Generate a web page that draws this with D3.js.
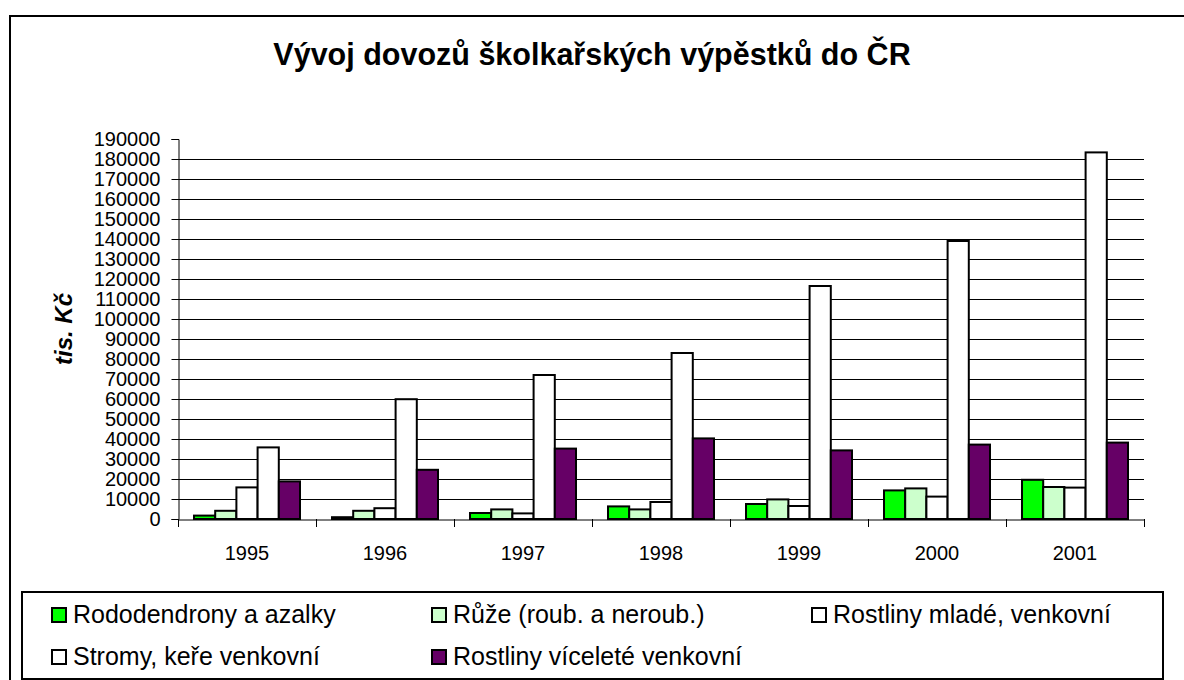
<!DOCTYPE html>
<html>
<head>
<meta charset="utf-8">
<script src="https://cdn.jsdelivr.net/npm/d3@7"></script>
<style>
  body { margin: 0; background: #fff; }
  text { font-family: Arial, "Liberation Sans", sans-serif; fill: #000; }
</style>
</head>
<body>
<div id="chart"></div>
<script>
// Dovoz školkařských výpěstků do ČR (tis. Kč)
const years = ["1995", "1996", "1997", "1998", "1999", "2000", "2001"];
const seriesNames = [
  "Rododendrony a azalky",
  "Růže (roub. a neroub.)",
  "Rostliny mladé, venkovní",
  "Stromy, keře venkovní",
  "Rostliny víceleté venkovní"
];
const rododendrony = [1700, 900, 3000, 6300, 7500, 14300, 19600];
const ruze = [4100, 4100, 4800, 4800, 9800, 15300, 16000];
const mlade = [15800, 5400, 2800, 8500, 6500, 11200, 15700];
const stromy = [35800, 59900, 72000, 83000, 116500, 139000, 183300];
const vicelete = [18800, 24600, 35200, 40300, 34300, 37200, 38200];
const yTicks = d3.range(0, 190001, 10000);
const colors = ["#00ff00", "#ccffcc", "#ffffff", "#ffffff", "#660066"];

const allSeries = [rododendrony, ruze, mlade, stromy, vicelete];

const width = 1184, height = 680;
const svg = d3.select("#chart").append("svg")
  .attr("width", width)
  .attr("height", height);

// outer chart border (right/bottom edges fall outside the picture)
svg.append("rect")
  .attr("x", 10).attr("y", 16)
  .attr("width", 1190).attr("height", 700)
  .attr("fill", "#fff").attr("stroke", "#000").attr("stroke-width", 2);

// title
svg.append("text")
  .attr("x", 592).attr("y", 65)
  .attr("text-anchor", "middle")
  .style("font-size", "30.5px").style("font-weight", "bold")
  .text("Vývoj dovozů školkařských výpěstků do ČR");

// scales
const x = d3.scaleBand().domain(years).range([178, 1144]).padding(0);
const xInner = d3.scaleBand().domain(d3.range(seriesNames.length))
  .range([16, x.bandwidth() - 16]).padding(0);
const y = d3.scaleLinear().domain([0, 190000]).range([519, 139]);

// gridlines (none at the top value)
svg.append("g")
  .selectAll("line")
  .data(yTicks.filter(t => t > 0 && t < 190000))
  .join("line")
  .attr("x1", 178).attr("x2", 1144)
  .attr("y1", d => Math.round(y(d)) + 0.5).attr("y2", d => Math.round(y(d)) + 0.5)
  .attr("stroke", "#000").attr("stroke-width", 1);

// y axis
const yAxis = svg.append("g")
  .attr("transform", "translate(178.5,0)")
  .call(d3.axisLeft(y).tickValues(yTicks).tickSize(7).tickPadding(11).tickFormat(d3.format("d")));
yAxis.select(".domain").attr("stroke", "#000");
yAxis.selectAll(".tick line").attr("stroke", "#000");
yAxis.selectAll("text").style("font-size", "20px").attr("fill", "#000");

// y axis title
svg.append("text")
  .attr("transform", "translate(72,329) rotate(-90)")
  .attr("text-anchor", "middle")
  .style("font-size", "24px").style("font-weight", "bold").style("font-style", "italic")
  .text("tis. Kč");

// bars
const groups = svg.append("g").selectAll("g")
  .data(years)
  .join("g")
  .attr("transform", d => `translate(${x(d)},0)`);

groups.selectAll("rect")
  .data((yr, i) => allSeries.map((s, k) => ({ k, v: s[i] })))
  .join("rect")
  .attr("x", d => xInner(d.k))
  .attr("width", xInner.bandwidth())
  .attr("y", d => y(d.v))
  .attr("height", d => y(0) - y(d.v))
  .attr("fill", d => colors[d.k])
  .attr("stroke", "#000")
  .attr("stroke-width", 2);

// x axis
const xAxis = svg.append("g")
  .attr("transform", "translate(0,519.5)")
  .call(d3.axisBottom(x).tickSize(0).tickPadding(26));
xAxis.select(".domain").attr("stroke", "#000");
xAxis.selectAll("text").style("font-size", "20px").attr("fill", "#000");
svg.append("g").selectAll("line")
  .data(years.map(d => x(d)).concat([x.range()[1]]))
  .join("line")
  .attr("x1", d => Math.round(d) + 0.5).attr("x2", d => Math.round(d) + 0.5)
  .attr("y1", 519).attr("y2", 527)
  .attr("stroke", "#000");

// legend
svg.append("rect")
  .attr("x", 22).attr("y", 592)
  .attr("width", 1141).attr("height", 87)
  .attr("fill", "#fff").attr("stroke", "#000").attr("stroke-width", 2);

const legend = svg.append("g").selectAll("g")
  .data(seriesNames)
  .join("g")
  .attr("transform", (d, i) => `translate(${52 + (i % 3) * 380},${i < 3 ? 608 : 650})`);

legend.append("rect")
  .attr("width", 14).attr("height", 14)
  .attr("fill", (d, i) => colors[i])
  .attr("stroke", "#000").attr("stroke-width", 2);

legend.append("text")
  .attr("x", 21).attr("y", 15)
  .style("font-size", "25px")
  .text(d => d);
</script>
</body>
</html>
